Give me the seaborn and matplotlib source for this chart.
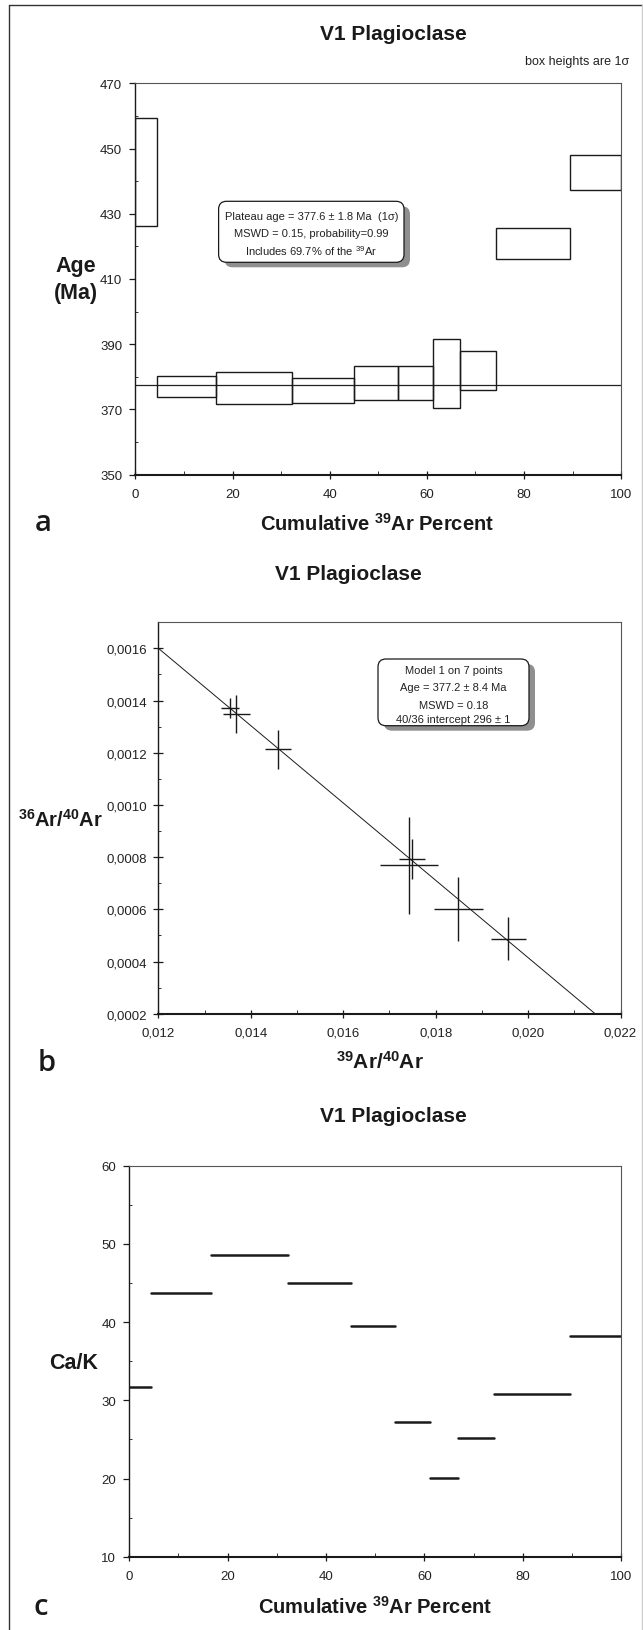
import numpy as np
import pandas as pd
import matplotlib
matplotlib.use("Agg")
import matplotlib.pyplot as plt
import seaborn as sns
from matplotlib.patches import FancyBboxPatch
from matplotlib.transforms import IdentityTransform
from matplotlib.ticker import MultipleLocator, FixedLocator, FuncFormatter
from matplotlib.lines import Line2D

# ---------------- data ----------------
# step-heating: cumulative 39Ar release (%) at the step boundaries
cum_39ar = [0, 4.5, 16.7, 32.3, 45.1, 54.1, 61.2, 66.8, 74.2, 89.5, 100]
# apparent age (Ma) and 1-sigma error for each step
step_age = [442.8, 377.1, 376.55, 375.9, 378.1, 378.05, 381.0, 381.85, 420.9, 442.6]
step_err = [16.6, 3.3, 4.85, 3.8, 5.2, 5.15, 10.6, 5.95, 4.7, 5.4]
plateau_age = 377.6

# Ca/K ratio for each step
ca_k = [31.75, 43.66, 48.6, 45.06, 39.45, 27.27, 20.09, 25.14, 30.77, 38.17]

# inverse isochron points (39Ar/40Ar, 36Ar/40Ar) with errors
iso_x = [0.013545, 0.013687, 0.014584, 0.017426, 0.017488, 0.018492, 0.019575]
iso_xerr = [0.00020, 0.000293, 0.00028, 0.000635, 0.00028, 0.000537, 0.00038]
iso_y = [0.001373, 0.001349, 0.001214, 0.000769, 0.000792, 0.000600, 0.000488]
iso_yerr = [0.0000385, 0.0000737, 0.0000744, 0.0001865, 0.0000769, 0.000123, 0.0000808]
trapped_ratio = 296.0            # 40Ar/36Ar intercept
radiogenic_x_intercept = 0.0228  # 39Ar/40Ar intercept of the isochron

age_ticks = [350, 370, 390, 410, 430, 450, 470]

# ---------------- style ----------------
sns.set_style("ticks")
plt.rcParams['font.family'] = ['Liberation Sans', 'DejaVu Sans']
plt.rcParams['mathtext.fontset'] = 'custom'
plt.rcParams['mathtext.rm'] = 'Liberation Sans'
plt.rcParams['mathtext.default'] = 'regular'
plt.rcParams['axes.linewidth'] = 1.0

INK = '#1a1a1a'
W, H = 643, 1631
fig = plt.figure(figsize=(W / 100, H / 100), dpi=100)
fig.patch.set_facecolor('white')


def add_ax(l, t, r, b):
    return fig.add_axes([l / W, 1 - b / H, (r - l) / W, (b - t) / H])


def ftext(x, y, s, **kw):
    kw.setdefault('ha', 'center')
    kw.setdefault('va', 'center')
    kw.setdefault('color', INK)
    return fig.text(x / W, 1 - y / H, s, **kw)


def style_axes(ax, ytick_dir='out', ylen=4, pad_x=6.5, pad_y=5.5):
    ax.set_facecolor('white')
    for s in ('top', 'right'):
        ax.spines[s].set_color('#555555')
        ax.spines[s].set_linewidth(0.8)
    ax.spines['left'].set_color(INK)
    ax.spines['left'].set_linewidth(1.0)
    ax.spines['bottom'].set_color(INK)
    ax.spines['bottom'].set_linewidth(1.5)
    ax.tick_params(axis='x', which='major', direction='inout', length=6, width=0.9,
                   color=INK, labelsize=9.5, pad=pad_x, labelcolor='#222222')
    ax.tick_params(axis='x', which='minor', direction='in', length=3, width=0.7,
                   color='#333333')
    ax.tick_params(axis='y', which='major', direction=ytick_dir, length=ylen, width=0.9,
                   color=INK, labelsize=9.5, pad=pad_y, labelcolor='#222222')
    ax.tick_params(axis='y', which='minor', direction='in', length=2.5, width=0.7,
                   color='#333333')
    ax.set_xlabel('')
    ax.set_ylabel('')


def text_box(x0, y0, x1, y1, lines, line_y, cx, fs=8.0):
    tr = IdentityTransform()
    shadow = FancyBboxPatch((x0 + 6, H - y1 - 5), (x1 - x0), (y1 - y0),
                            boxstyle='round,pad=0,rounding_size=8',
                            transform=tr, fc='#8f8f8f', ec='none', zorder=5)
    box = FancyBboxPatch((x0, H - y1), (x1 - x0), (y1 - y0),
                         boxstyle='round,pad=0,rounding_size=8',
                         transform=tr, fc='white', ec=INK, lw=0.9, zorder=6)
    fig.patches.extend([shadow, box])
    for s, yy in zip(lines, line_y):
        ftext(cx, yy, s, fontsize=fs, color='#222222', zorder=7)


# ---------------- panel a: age spectrum ----------------
ax_a = add_ax(135.3, 84.3, 621.3, 475.7)
left = np.array(cum_39ar[:-1])
width = np.diff(cum_39ar)
age = np.array(step_age)
err = np.array(step_err)
ax_a.bar(left, 2 * err, bottom=age - err, width=width, align='edge',
         fill=False, edgecolor=INK, linewidth=1.0, zorder=3)
sns.lineplot(x=[0, 100], y=[plateau_age, plateau_age], color='#222222',
             linewidth=0.9, ax=ax_a, zorder=2)
ax_a.set_xlim(0, 100)
ax_a.set_ylim(350, 470)
ax_a.xaxis.set_major_locator(MultipleLocator(20))
ax_a.xaxis.set_minor_locator(MultipleLocator(10))
ax_a.yaxis.set_major_locator(FixedLocator(age_ticks))
ax_a.yaxis.set_minor_locator(FixedLocator([t + 10 for t in age_ticks[:-1]]))
style_axes(ax_a)

ftext(393.7, 35, 'V1 Plagioclase', fontsize=15, fontweight='bold')
ftext(629.5, 61.7, 'box heights are 1σ', fontsize=9, ha='right', color='#222222')
ftext(76, 266.7, 'Age', fontsize=15.5, fontweight='bold')
ftext(76, 293.3, '(Ma)', fontsize=15.5, fontweight='bold')
ftext(377, 524, 'Cumulative $^{39}$Ar Percent', fontsize=14.5, fontweight='bold')
ftext(43, 524, 'a', fontsize=21, family=['Open Sans', 'DejaVu Sans'],
      fontweight='semibold')

text_box(218.6, 202.3, 404, 263.3,
         ['Plateau age = 377.6 ± 1.8 Ma  (1σ)',
          'MSWD = 0.15, probability=0.99',
          'Includes 69.7% of the $^{39}$Ar'],
         [216.7, 234.3, 251.5], 311.3)

# ---------------- panel b: inverse isochron ----------------
ax_b = add_ax(158.4, 623.3, 620.5, 1014.7)
ax_b.errorbar(iso_x, iso_y, xerr=iso_xerr, yerr=iso_yerr, fmt='none',
              ecolor=INK, elinewidth=1.0, capsize=0, zorder=3)
fit_x = np.linspace(0.0, radiogenic_x_intercept, 50)
fit_y = (1.0 / trapped_ratio) * (1.0 - fit_x / radiogenic_x_intercept)
sns.lineplot(x=fit_x, y=fit_y, color=INK, linewidth=0.7, ax=ax_b, zorder=2)
ax_b.set_xlim(0.012, 0.022)
ax_b.set_ylim(0.0002, 0.0017)
ax_b.xaxis.set_major_locator(MultipleLocator(0.002))
ax_b.xaxis.set_minor_locator(MultipleLocator(0.001))
ax_b.yaxis.set_major_locator(FixedLocator([0.0002, 0.0004, 0.0006, 0.0008,
                                           0.0010, 0.0012, 0.0014, 0.0016]))
ax_b.yaxis.set_minor_locator(FixedLocator([0.0003, 0.0005, 0.0007, 0.0009,
                                           0.0011, 0.0013, 0.0015]))
ax_b.xaxis.set_major_formatter(FuncFormatter(lambda v, p: f'{v:.3f}'.replace('.', ',')))
ax_b.yaxis.set_major_formatter(FuncFormatter(lambda v, p: f'{v:.4f}'.replace('.', ',')))
style_axes(ax_b, ytick_dir='inout', ylen=7, pad_y=4.5)

ftext(348.6, 575, 'V1 Plagioclase', fontsize=15, fontweight='bold')
ftext(60.5, 820, '$^{36}$Ar/$^{40}$Ar', fontsize=14.5, fontweight='bold')
ftext(380, 1062, '$^{39}$Ar/$^{40}$Ar', fontsize=15, fontweight='bold')
ftext(47, 1064, 'b', fontsize=21, family=['Open Sans', 'DejaVu Sans'],
      fontweight='semibold')

text_box(378, 660, 529, 726.7,
         ['Model 1 on 7 points', 'Age = 377.2 ± 8.4 Ma', 'MSWD = 0.18',
          '40/36 intercept 296 ± 1'],
         [670.5, 688.3, 706, 720.2], 453.5)

# ---------------- panel c: Ca/K spectrum ----------------
ax_c = add_ax(129.2, 1166.7, 621.3, 1557.7)
rows = []
for i, v in enumerate(ca_k):
    rows.append({'step': i, 'cum': cum_39ar[i], 'cak': v})
    rows.append({'step': i, 'cum': cum_39ar[i + 1], 'cak': v})
df_c = pd.DataFrame(rows)
sns.lineplot(data=df_c, x='cum', y='cak', units='step', estimator=None, sort=False,
             color=INK, linewidth=1.8, ax=ax_c, legend=False, zorder=3)
ax_c.set_xlim(0, 100)
ax_c.set_ylim(10, 60)
ax_c.xaxis.set_major_locator(MultipleLocator(20))
ax_c.xaxis.set_minor_locator(MultipleLocator(10))
ax_c.yaxis.set_major_locator(MultipleLocator(10))
ax_c.yaxis.set_minor_locator(MultipleLocator(5))
style_axes(ax_c)

ftext(393.7, 1116.7, 'V1 Plagioclase', fontsize=15, fontweight='bold')
ftext(74, 1363.3, 'Ca/K', fontsize=15.5, fontweight='bold')
ftext(375, 1606.5, 'Cumulative $^{39}$Ar Percent', fontsize=14.5, fontweight='bold')
ftext(41, 1608, 'c', fontsize=21, family=['Open Sans', 'DejaVu Sans'],
      fontweight='semibold')

# ---------------- outer frame ----------------
fx = lambda x: x / W
fy = lambda y: 1 - y / H
fig.lines.extend([
    Line2D([fx(9), fx(9)], [fy(5.7), fy(H)], transform=fig.transFigure,
           color='#333333', lw=1.0),
    Line2D([fx(9), fx(641.7)], [fy(5.7), fy(5.7)], transform=fig.transFigure,
           color='#333333', lw=1.0),
    Line2D([fx(641.7), fx(641.7)], [fy(5.7), fy(H)], transform=fig.transFigure,
           color='#cccccc', lw=1.0),
])

fig.savefig('out.png', dpi=100, facecolor='white')
